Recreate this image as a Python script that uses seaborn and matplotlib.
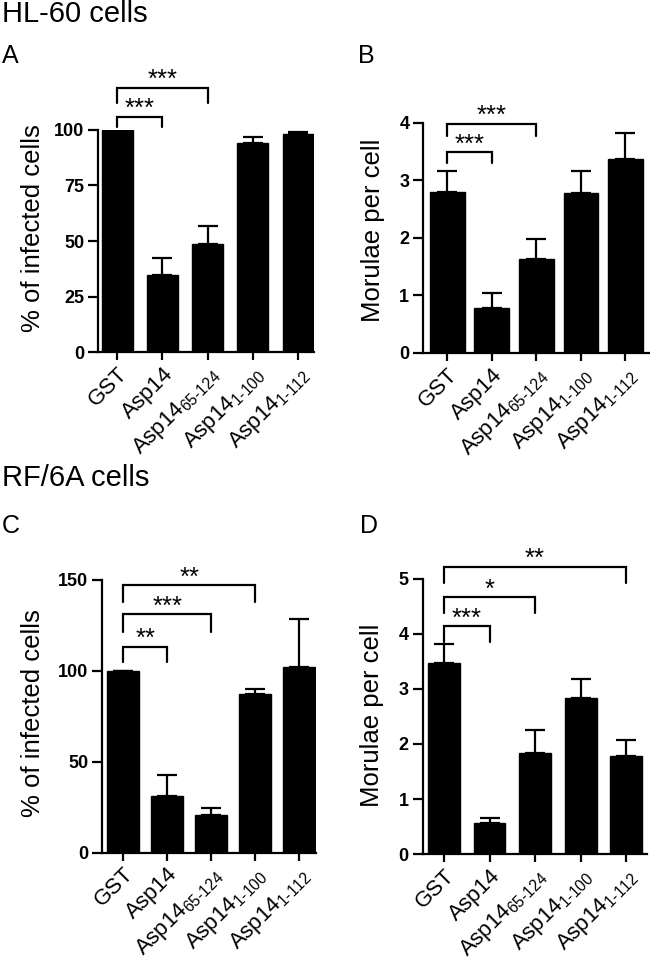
"""Asp14 fragment inhibition of infection in HL-60 and RF/6A cells (panels A-D)."""

import matplotlib

matplotlib.use("Agg")
import matplotlib.pyplot as plt
import numpy as np
import pandas as pd
import seaborn as sns

# ---- data -----------------------------------------------------------------
CATEGORIES = ["GST", "Asp14", "Asp14 65-124", "Asp14 1-100", "Asp14 1-112"]
TICK_LABELS = [
    "GST",
    "Asp14",
    r"Asp14$_{\text{65-124}}$",
    r"Asp14$_{\text{1-100}}$",
    r"Asp14$_{\text{1-112}}$",
]

HL60_INFECTED = [100, 34.5, 48.5, 94, 98]
HL60_INFECTED_ERR = [0, 7.8, 8.3, 3.0, 1.0]
HL60_MORULAE = [2.80, 0.79, 1.63, 2.79, 3.38]
HL60_MORULAE_ERR = [0.37, 0.25, 0.35, 0.38, 0.45]

RF6A_INFECTED = [100, 31.2, 20.7, 87.5, 102.3]
RF6A_INFECTED_ERR = [0, 11.5, 3.7, 2.7, 26.1]
RF6A_MORULAE = [3.47, 0.57, 1.83, 2.83, 1.78]
RF6A_MORULAE_ERR = [0.35, 0.09, 0.42, 0.35, 0.30]

# comparisons: (first bar, second bar, significance)
HL60_INFECTED_SIG = [(0, 1, "***"), (0, 2, "***")]
HL60_MORULAE_SIG = [(0, 1, "***"), (0, 2, "***")]
RF6A_INFECTED_SIG = [(0, 1, "**"), (0, 2, "***"), (0, 3, "**")]
RF6A_MORULAE_SIG = [(0, 1, "***"), (0, 2, "*"), (0, 4, "**")]

# ---- style ----------------------------------------------------------------
sns.set_style("ticks", {
    "axes.edgecolor": "black",
    "xtick.color": "black",
    "ytick.color": "black",
    "text.color": "black",
    "axes.labelcolor": "black",
})
plt.rcParams["font.family"] = ["Liberation Sans", "DejaVu Sans"]
plt.rcParams["mathtext.fontset"] = "custom"
plt.rcParams["mathtext.rm"] = "Liberation Sans"
plt.rcParams["mathtext.it"] = "Liberation Sans:italic"
plt.rcParams["mathtext.bf"] = "Liberation Sans:bold"

LW = 1.6


def draw_panel(ax, values, errors, sig, *, ylabel, ylim, yticks, xlim, width,
               bracket_levels, label_coords):
    frame = pd.DataFrame({"group": CATEGORIES, "value": values})
    sns.barplot(data=frame, x="group", y="value", color="black",
                edgecolor="black", saturation=1, width=width, errorbar=None, ax=ax)
    pos = np.arange(len(values))
    ax.errorbar(pos, values, yerr=[np.zeros(len(errors)), errors], fmt="none",
                ecolor="black", elinewidth=LW, capsize=7.5, capthick=LW)

    for (i, j, stars), (top, leg) in zip(sig, bracket_levels):
        ax.plot([i, i, j, j], [leg, top, top, leg], color="black", lw=LW,
                clip_on=False, solid_joinstyle="miter")
        ax.annotate(stars, ((i + j) / 2, top), xytext=(0, 0.5),
                    textcoords="offset points", ha="center", va="baseline",
                    fontsize=18.5, annotation_clip=False)

    ax.set_ylim(*ylim)
    ax.set_xlim(*xlim)
    ax.set_yticks(yticks)
    ax.set_xticks(pos)
    ax.set_xticklabels(TICK_LABELS, rotation=45, ha="right",
                       rotation_mode="anchor", fontsize=16)
    plt.setp(ax.get_yticklabels(), fontweight="bold", fontsize=13)
    ax.tick_params(axis="y", length=7, width=LW, pad=3)
    ax.tick_params(axis="x", length=6, width=LW, pad=2)
    ax.set_xlabel("")
    ax.set_ylabel(ylabel, fontsize=18.5)
    ax.yaxis.set_label_coords(*label_coords)
    sns.despine(ax=ax)
    for side in ("left", "bottom"):
        ax.spines[side].set_linewidth(LW)


fig = plt.figure(figsize=(6.5, 9.6), dpi=100)

ax_a = fig.add_axes([0.151, 0.6333, 0.332, 0.2313])
ax_b = fig.add_axes([0.651, 0.6323, 0.349, 0.2396])
ax_c = fig.add_axes([0.157, 0.1118, 0.329, 0.2841])
ax_d = fig.add_axes([0.650, 0.1104, 0.345, 0.2865])

draw_panel(ax_a, HL60_INFECTED, HL60_INFECTED_ERR, HL60_INFECTED_SIG,
           ylabel="% of infected cells", ylim=(0, 100),
           yticks=[0, 25, 50, 75, 100], xlim=(-0.42, 4.35), width=0.69,
           bracket_levels=[(106, 101.5), (119, 112)],
           label_coords=(-0.245, 0.56))
draw_panel(ax_b, HL60_MORULAE, HL60_MORULAE_ERR, HL60_MORULAE_SIG,
           ylabel="Morulae per cell", ylim=(0, 4),
           yticks=[0, 1, 2, 3, 4], xlim=(-0.54, 4.55), width=0.78,
           bracket_levels=[(3.49, 3.30), (3.99, 3.77)],
           label_coords=(-0.167, 0.535))
draw_panel(ax_c, RF6A_INFECTED, RF6A_INFECTED_ERR, RF6A_INFECTED_SIG,
           ylabel="% of infected cells", ylim=(0, 150),
           yticks=[0, 50, 100, 150], xlim=(-0.48, 4.38), width=0.74,
           bracket_levels=[(113.3, 105), (131.1, 121.6), (147, 138)],
           label_coords=(-0.266, 0.512))
draw_panel(ax_d, RF6A_MORULAE, RF6A_MORULAE_ERR, RF6A_MORULAE_SIG,
           ylabel="Morulae per cell", ylim=(0, 5),
           yticks=[0, 1, 2, 3, 4, 5], xlim=(-0.47, 4.45), width=0.7,
           bracket_levels=[(4.14, 3.85), (4.67, 4.39), (5.22, 4.93)],
           label_coords=(-0.17, 0.505))

fig.text(0.003, 1 - 22 / 960, "HL-60 cells", fontsize=21, va="baseline")
fig.text(0.003, 1 - 486 / 960, "RF/6A cells", fontsize=21, va="baseline")
for letter, x, y in (("A", 2, 63), ("B", 358, 63), ("C", 2, 533), ("D", 360, 533)):
    fig.text(x / 650, 1 - y / 960, letter, fontsize=18, va="baseline")

fig.savefig("out.png", dpi=100, facecolor="white")
